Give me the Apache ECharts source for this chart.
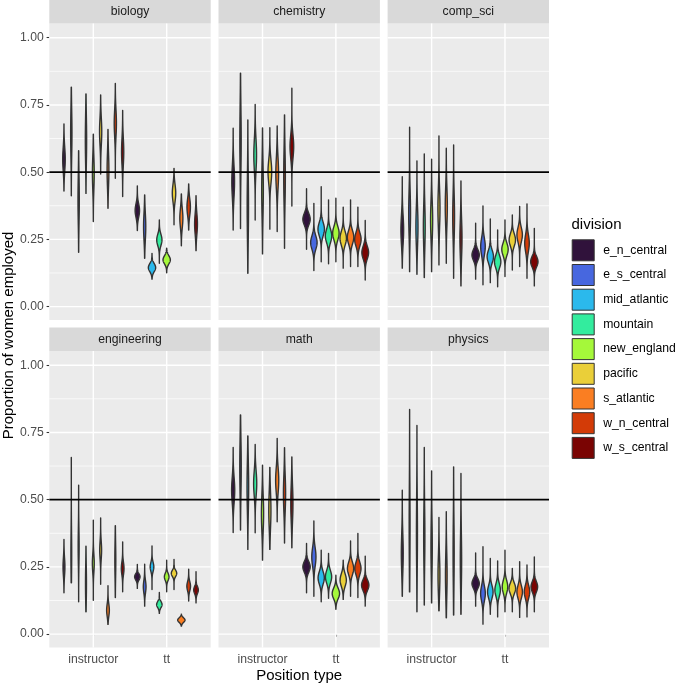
<!DOCTYPE html>
<html><head><meta charset="utf-8">
<script src="https://cdn.jsdelivr.net/npm/echarts@6/dist/echarts.min.js"></script>
<style>html,body{margin:0;padding:0;background:#fff}#c{width:676px;height:684px}</style>
</head><body><div id="c"></div>
<script>
// ---------- DATA ----------
const facets = ['biology', 'chemistry', 'comp_sci', 'engineering', 'math', 'physics'];
const positions = ['instructor', 'tt'];
const divisions = ['e_n_central', 'e_s_central', 'mid_atlantic', 'mountain', 'new_england', 'pacific', 's_atlantic', 'w_n_central', 'w_s_central'];
const divisionColors = ['#30123B', '#4767DF', '#2BB9EC', '#33EC9E', '#A5F83A', '#EACF39', '#FA7E22', '#D33B07', '#7A0403'];
const yTicks = [0, 0.25, 0.5, 0.75, 1.0];
const yTickLabels = ['0.00', '0.25', '0.50', '0.75', '1.00'];
const yMinor = [0.125, 0.375, 0.625, 0.875];
const refLine = 0.5;

// each violin: [min, mode, max, spread(sd)], one per division
const biology_instructor = [[0.430,0.548,0.679,0.043],[0.412,0.645,0.816,0.085],[0.202,0.397,0.580,0.085],[0.421,0.620,0.791,0.085],[0.316,0.496,0.641,0.061],[0.493,0.651,0.787,0.05],[0.366,0.508,0.659,0.061],[0.477,0.682,0.830,0.05],[0.409,0.576,0.729,0.05]];
const biology_tt = [[0.283,0.357,0.449,0.025],[0.180,0.297,0.415,0.05],[0.102,0.145,0.198,0.015],[0.161,0.248,0.322,0.021],[0.126,0.174,0.217,0.015],[0.304,0.422,0.514,0.032],[0.226,0.329,0.419,0.036],[0.285,0.370,0.456,0.032],[0.208,0.307,0.412,0.039]];
const chemistry_instructor = [[0.285,0.465,0.663,0.059],[0.290,0.620,0.868,0.12],[0.124,0.372,0.694,0.12],[0.322,0.564,0.752,0.059],[0.196,0.434,0.664,0.099],[0.288,0.502,0.665,0.044],[0.279,0.496,0.672,0.059],[0.217,0.483,0.713,0.099],[0.374,0.595,0.812,0.044]];
const chemistry_tt = [[0.213,0.325,0.438,0.022],[0.134,0.238,0.384,0.025],[0.167,0.288,0.446,0.025],[0.159,0.263,0.397,0.025],[0.167,0.273,0.403,0.025],[0.143,0.254,0.370,0.025],[0.149,0.258,0.397,0.025],[0.149,0.250,0.370,0.025],[0.099,0.201,0.320,0.024]];
const comp_sci_instructor = [[0.143,0.285,0.483,0.054],[0.130,0.347,0.667,0.08],[0.120,0.297,0.542,0.07],[0.108,0.297,0.568,0.08],[0.130,0.322,0.548,0.07],[0.155,0.366,0.635,0.07],[0.161,0.372,0.589,0.07],[0.105,0.335,0.601,0.08],[0.077,0.254,0.467,0.07]];
const comp_sci_tt = [[0.102,0.192,0.310,0.02],[0.081,0.223,0.374,0.032],[0.089,0.186,0.326,0.023],[0.074,0.167,0.285,0.023],[0.112,0.213,0.322,0.023],[0.136,0.248,0.341,0.023],[0.149,0.267,0.372,0.027],[0.105,0.236,0.382,0.032],[0.077,0.167,0.291,0.02]];
const engineering_instructor = [[0.154,0.250,0.352,0.033],[0.191,0.300,0.657,0.08],[0.120,0.325,0.554,0.065],[0.083,0.188,0.327,0.065],[0.126,0.263,0.424,0.033],[0.185,0.312,0.432,0.033],[0.036,0.089,0.180,0.023],[0.136,0.275,0.403,0.065],[0.157,0.244,0.343,0.023]];
const engineering_tt = [[0.170,0.213,0.259,0.0115],[0.104,0.176,0.260,0.023],[0.166,0.250,0.328,0.017],[0.077,0.110,0.155,0.0115],[0.157,0.213,0.275,0.0135],[0.166,0.226,0.278,0.0115],[0.030,0.052,0.074,0.0085],[0.123,0.178,0.241,0.017],[0.116,0.164,0.232,0.0135]];
const math_instructor = [[0.378,0.535,0.694,0.047],[0.387,0.622,0.815,0.1],[0.315,0.548,0.737,0.09],[0.377,0.560,0.705,0.047],[0.275,0.449,0.628,0.067],[0.315,0.461,0.620,0.067],[0.418,0.572,0.728,0.047],[0.339,0.523,0.693,0.067],[0.321,0.486,0.659,0.067]];
const math_tt = [[0.154,0.250,0.337,0.02],[0.141,0.287,0.421,0.035],[0.120,0.209,0.312,0.0235],[0.133,0.213,0.300,0.0235],[0.092,0.151,0.219,0.02],[0.129,0.201,0.275,0.0235],[0.141,0.244,0.346,0.0235],[0.136,0.244,0.374,0.0235],[0.104,0.182,0.290,0.02]];
const physics_instructor = [[0.141,0.300,0.535,0.07],[0.157,0.399,0.835,0.15],[0.083,0.374,0.776,0.13],[0.108,0.362,0.694,0.11],[0.116,0.325,0.607,0.1],[0.087,0.219,0.434,0.07],[0.061,0.219,0.455,0.08],[0.071,0.300,0.622,0.12],[0.074,0.275,0.597,0.1]];
const physics_tt = [[0.104,0.188,0.302,0.018],[0.037,0.151,0.325,0.028],[0.074,0.157,0.281,0.024],[0.064,0.164,0.272,0.024],[0.083,0.176,0.312,0.024],[0.083,0.170,0.244,0.02],[0.062,0.157,0.269,0.024],[0.064,0.157,0.257,0.024],[0.083,0.176,0.287,0.02]];

const facetData = {
  biology: [biology_instructor, biology_tt],
  chemistry: [chemistry_instructor, chemistry_tt],
  comp_sci: [comp_sci_instructor, comp_sci_tt],
  engineering: [engineering_instructor, engineering_tt],
  math: [math_instructor, math_tt],
  physics: [physics_instructor, physics_tt]
};

// ---------- LAYOUT ----------
const FONT = 'Liberation Sans, Arial, Helvetica, sans-serif';
const panelLeft = [49.3, 218.5, 387.6];
const panelTop = [23.5, 351];
const panelW = 161.4, panelH = 296.4, stripH = 23.5;
const X_MIN = 0.4, X_MAX = 2.6, Y_MIN = -0.0495, Y_MAX = 1.0528;
const dodge = 0.9 / divisions.length;

const chart = echarts.init(document.getElementById('c'), null, {renderer: 'canvas'});
const grids = [], xAxes = [], yAxes = [], series = [], graphics = [];

facets.forEach((f, fi) => {
  const col = fi % 3, row = Math.floor(fi / 3);
  const L = panelLeft[col], T = panelTop[row];
  grids.push({left: L, top: T, width: panelW, height: panelH, show: true, backgroundColor: '#EBEBEB', borderWidth: 0, containLabel: false});
  xAxes.push({
    type: 'value', gridIndex: fi, min: X_MIN, max: X_MAX,
    axisLine: {show: false}, splitLine: {show: false},
    axisTick: {show: row === 1, customValues: [1, 2], length: 2.7, lineStyle: {color: '#333333', width: 1.07}},
    axisLabel: {show: row === 1, customValues: [1, 2], margin: 6.5, color: '#4D4D4D', fontSize: 12.2, fontFamily: FONT,
      formatter: v => positions[Math.round(v) - 1] || ''}
  });
  yAxes.push({
    type: 'value', gridIndex: fi, min: Y_MIN, max: Y_MAX,
    axisLine: {show: false}, splitLine: {show: false},
    axisTick: {show: col === 0, customValues: yTicks, length: 2.7, lineStyle: {color: '#333333', width: 1.07}},
    axisLabel: {show: col === 0, customValues: yTicks, margin: 5.5, color: '#4D4D4D', fontSize: 12.2, fontFamily: FONT,
      formatter: v => { const i = yTicks.findIndex(t => Math.abs(t - v) < 1e-6); return i >= 0 ? yTickLabels[i] : ''; }}
  });

  // horizontal gridlines
  series.push({
    type: 'custom', xAxisIndex: fi, yAxisIndex: fi, silent: true, z: 1, clip: false,
    data: yMinor.map(v => [v, 0]).concat(yTicks.map(v => [v, 1])),
    renderItem: (p, api) => {
      const y = api.value(0), major = api.value(1) === 1;
      const a = api.coord([X_MIN, y]), b = api.coord([X_MAX, y]);
      return {type: 'line', shape: {x1: a[0], y1: a[1], x2: b[0], y2: b[1]}, style: {stroke: '#FFFFFF', lineWidth: major ? 1.42 : 0.71}};
    }
  });
  // vertical gridlines
  series.push({
    type: 'custom', xAxisIndex: fi, yAxisIndex: fi, silent: true, z: 1, clip: false,
    data: positions.map((p, i) => [i + 1]),
    renderItem: (p, api) => {
      const x = api.value(0);
      const a = api.coord([x, Y_MIN]), b = api.coord([x, Y_MAX]);
      return {type: 'line', shape: {x1: a[0], y1: a[1], x2: b[0], y2: b[1]}, style: {stroke: '#FFFFFF', lineWidth: 1.42}};
    }
  });

  // violins
  const fd = facetData[f];
  let sdMin = Infinity;
  fd.forEach(arr => arr.forEach(v => { sdMin = Math.min(sdMin, v[3]); }));
  divisions.forEach((d, di) => {
    const color = divisionColors[di];
    series.push({
      type: 'custom', name: d, xAxisIndex: fi, yAxisIndex: fi, z: 3, silent: true,
      itemStyle: {color: color, borderColor: '#333333', borderWidth: 1},
      data: positions.map((p, pi) => [pi + 1].concat(fd[pi][di])),
      renderItem: (params, api) => {
        const xc = api.value(0) + (di - (divisions.length - 1) / 2) * dodge;
        const lo = api.value(1), mid = api.value(2), hi = api.value(3), sd = api.value(4);
        const peak = (dodge / 2) * sdMin / sd;
        const N = 90, right = [], left = [];
        for (let k = 0; k <= N; k++) {
          const y = lo + (hi - lo) * k / N;
          const w = peak * Math.exp(-0.5 * Math.pow((y - mid) / sd, 2));
          right.push(api.coord([xc + w, y]));
          left.push(api.coord([xc - w, y]));
        }
        return {type: 'polygon', shape: {points: right.concat(left.reverse())},
          style: {fill: color, stroke: '#333333', lineWidth: 1.4, lineJoin: 'round'}};
      }
    });
  });

  // reference line
  series.push({
    type: 'custom', xAxisIndex: fi, yAxisIndex: fi, silent: true, z: 5, clip: false,
    data: [[refLine]],
    renderItem: (p, api) => {
      const y = api.value(0);
      const a = api.coord([X_MIN, y]), b = api.coord([X_MAX, y]);
      return {type: 'line', shape: {x1: a[0], y1: a[1], x2: b[0], y2: b[1]}, style: {stroke: '#000000', lineWidth: 1.6}};
    }
  });

  // strip
  graphics.push({type: 'rect', left: L, top: T - stripH, shape: {width: panelW, height: stripH}, style: {fill: '#D9D9D9'}, silent: true});
  graphics.push({type: 'text', x: L + panelW / 2, y: T - stripH / 2, style: {text: f, fill: '#1A1A1A', font: '12.2px ' + FONT, align: 'center', verticalAlign: 'middle'}, silent: true});
});

graphics.push({type: 'text', x: (panelLeft[0] + panelLeft[2] + panelW) / 2, y: 676, style: {text: 'Position type', fill: '#000', font: '15px ' + FONT, align: 'center', verticalAlign: 'middle'}, silent: true});
graphics.push({type: 'text', x: 8.5, y: (panelTop[0] + panelTop[1] + panelH) / 2, rotation: Math.PI / 2, style: {text: 'Proportion of women employed', fill: '#000', font: '15px ' + FONT, align: 'center', verticalAlign: 'middle'}, silent: true});

chart.setOption({
  animation: false,
  backgroundColor: '#FFFFFF',
  title: {text: 'division', left: 571.5, top: 217, padding: 0, textStyle: {fontSize: 15, fontWeight: 'normal', color: '#000', fontFamily: FONT}},
  legend: {
    data: divisions, orient: 'vertical', left: 571.7, top: 239.3, padding: 0,
    itemWidth: 22, itemHeight: 21, itemGap: 2.7, icon: 'rect', selectedMode: false,
    itemStyle: {borderColor: '#333333', borderWidth: 1},
    textStyle: {fontSize: 12.2, color: '#000', fontFamily: FONT, padding: [0, 0, 0, 4]}
  },
  grid: grids, xAxis: xAxes, yAxis: yAxes, series: series, graphic: graphics
});
</script></body></html>
